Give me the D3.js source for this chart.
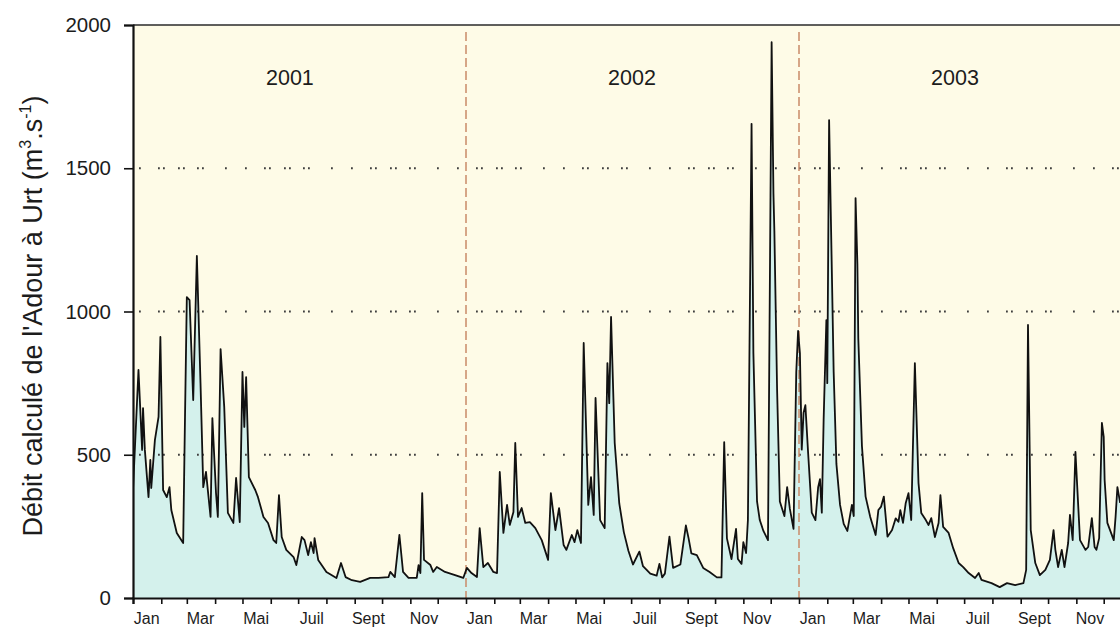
<!DOCTYPE html>
<html>
<head>
<meta charset="utf-8">
<script src="https://cdn.jsdelivr.net/npm/d3@7"></script>
<style>
  body { margin: 0; background: #ffffff; }
  svg { display: block; }
  text { font-family: "Liberation Sans", Arial, sans-serif; fill: #1c1c1c; }
</style>
</head>
<body>
<svg id="chart" width="1120" height="628"></svg>
<script>
// Daily discharge of the Adour at Urt, 2001-2003 (days counted from 1 Jan 2001)
const dayOfRecord = [
  0,6,10,11,13,17,19,20,24,28,30,33,37,40,42,48,55,57,59,62,66,70,74,77,80,85,87,91,93,96,
  100,104,110,113,117,120,122,124,127,134,137,143,148,154,157,160,163,168,176,179,185,188,192,195,198,199,
  203,212,223,228,233,240,249,260,269,280,282,287,292,296,302,311,313,315,317,319,326,329,333,342,353,362,
  366,371,377,380,384,389,395,399,402,406,410,413,417,419,422,426,430,435,441,448,455,458,463,467,472,475,
  481,484,487,491,494,499,502,505,507,512,517,520,522,524,528,533,538,543,548,555,559,567,574,577,580,583,
  588,592,600,606,609,612,618,625,632,640,645,648,651,656,661,663,667,669,672,674,678,680,684,687,691,696,
  700,702,703,706,709,714,717,720,724,727,729,
  731,733,735,737,740,744,748,751,753,755,757,760,761,763,768,771,775,779,783,788,790,792,794,795,799,803,
  808,814,817,820,823,827,832,836,839,841,844,847,850,853,857,861,864,869,872,875,879,883,885,888,894,899,
  905,910,916,923,927,930,941,950,958,967,976,979,981,984,989,994,1000,1005,1009,1011,1014,1018,1021,1025,
  1027,1030,1033,1038,1044,1047,1051,1054,1056,1059,1062,1064,1065,1068,1075,1077,1079,1082
];
const flow = [
  377,796,517,663,517,352,482,384,551,632,911,377,352,387,307,227,192,632,1050,1040,691,1194,750,387,440,283,628,366,283,869,
  667,297,262,419,265,789,597,771,422,377,352,283,262,202,192,359,213,168,143,115,213,202,150,195,157,209,
  133,91,70,122,73,62,56,70,70,73,91,73,220,91,70,70,115,87,366,133,115,91,108,91,80,70,
  105,87,73,244,108,122,91,87,440,227,325,255,300,541,283,314,262,265,244,202,133,366,237,314,185,168,
  220,195,237,192,890,325,422,290,698,272,244,820,680,981,541,330,230,165,117,162,111,85,78,119,72,85,
  214,105,117,253,208,156,150,105,91,72,72,544,208,136,241,136,119,195,157,272,1655,855,337,272,234,202,
  1940,1410,1281,726,337,286,387,311,241,789,932,
  855,518,647,673,506,298,272,387,415,298,621,970,750,1668,789,468,325,259,234,325,286,1396,1166,906,530,354,
  284,220,307,319,354,214,237,278,266,307,262,332,366,272,820,401,297,272,255,279,213,262,359,248,227,174,
  122,108,87,70,87,63,52,38,52,45,52,98,953,237,122,80,98,133,237,168,108,168,108,192,
  290,202,510,202,168,178,279,178,168,209,611,562,412,262,202,283,387,332
];

const yTicks = [0, 500, 1000, 1500, 2000];
const gridValues = [500, 1000, 1500];
const monthLabels = ["Jan", "Mar", "Mai", "Juil", "Sept", "Nov"];
const yearLabels = ["2001", "2002", "2003"];
const yearLabelDates = ["2001-06-22", "2002-07-02", "2003-06-21"];
const yearBreaks = ["2002-01-01", "2003-01-01"];

const recordStart = new Date(2001, 0, 1);
const recordEnd = new Date(2004, 0, 1);
const parseDay = d3.timeParse("%Y-%m-%d");

const series = dayOfRecord.map((d, i) => ({ date: d3.timeDay.offset(recordStart, d), v: flow[i] }));

const svg = d3.select("#chart");
const W = 1120;
const plot = { left: 133, top: 25, bottom: 598, right: 1132 };

const x = d3.scaleTime().domain([recordStart, recordEnd]).range([plot.left, plot.right]);
const y = d3.scaleLinear().domain([0, 2000]).range([plot.bottom, plot.top]);

svg.append("defs").append("clipPath").attr("id", "plotClip")
  .append("rect").attr("x", plot.left).attr("y", plot.top)
  .attr("width", plot.right - plot.left).attr("height", plot.bottom - plot.top);

// plot background
svg.append("rect")
  .attr("x", plot.left).attr("y", plot.top)
  .attr("width", plot.right - plot.left).attr("height", plot.bottom - plot.top)
  .attr("fill", "#fefbe7");

const data = svg.append("g").attr("clip-path", "url(#plotClip)");

data.append("path").datum(series)
  .attr("fill", "#d4f1ec")
  .attr("d", d3.area().x(d => x(d.date)).y0(y(0)).y1(d => y(d.v)));

// dotted horizontal grid
data.selectAll(".grid").data(gridValues).join("line")
  .attr("x1", plot.left).attr("x2", plot.right)
  .attr("y1", d => y(d)).attr("y2", d => y(d))
  .attr("stroke", "#3e3e3e").attr("stroke-width", 1.8)
  .attr("stroke-dasharray", "1.8,3.2,1.8,13.2,1.8,3.2,1.8,12.2,1.8,3.2,1.8,21.2,1.8,18.2,1.8,17.2")
  .attr("stroke-dashoffset", 81);

// year separators
data.selectAll(".yearBreak").data(yearBreaks).join("line")
  .attr("x1", d => x(parseDay(d))).attr("x2", d => x(parseDay(d)))
  .attr("y1", 32).attr("y2", plot.bottom)
  .attr("stroke", "#c98a68").attr("stroke-width", 1.5)
  .attr("stroke-dasharray", "9,4");

data.append("path").datum(series)
  .attr("fill", "none").attr("stroke", "#111").attr("stroke-width", 1.8)
  .attr("stroke-linejoin", "round")
  .attr("d", d3.line().x(d => x(d.date)).y(d => y(d.v)));

// year labels
svg.selectAll(".yearLabel").data(yearLabels).join("text")
  .attr("x", (d, i) => x(parseDay(yearLabelDates[i])))
  .attr("y", 85)
  .attr("text-anchor", "middle")
  .attr("font-size", 21.5)
  .text(d => d);

// frame: top border
svg.append("line")
  .attr("x1", plot.left).attr("x2", W).attr("y1", plot.top).attr("y2", plot.top)
  .attr("stroke", "#2a2a2a").attr("stroke-width", 1.6);

// y axis
const yAxis = svg.append("g").attr("transform", `translate(${plot.left},0)`)
  .call(d3.axisLeft(y).tickValues(yTicks).tickSize(9).tickPadding(13).tickFormat(d3.format("d")));
yAxis.select(".domain").attr("stroke", "#111").attr("stroke-width", 2.2);
yAxis.selectAll(".tick line").attr("stroke", "#111").attr("stroke-width", 1.6);
yAxis.selectAll(".tick text").attr("font-size", 20.5).attr("fill", "#1c1c1c")
  .attr("font-family", '"Liberation Sans", Arial, sans-serif');

// x axis: a tick at every month start, labels mid-month every other month
const months = d3.timeMonth.range(recordStart, recordEnd);
const xAxis = svg.append("g").attr("transform", `translate(0,${plot.bottom})`)
  .call(d3.axisBottom(x).tickValues(months).tickSize(6).tickFormat(""));
xAxis.select(".domain").attr("stroke", "#111").attr("stroke-width", 2.2);
xAxis.selectAll(".tick line").attr("stroke", "#111").attr("stroke-width", 1.6);

const labelled = months.filter(m => m.getMonth() % 2 === 0);
svg.selectAll(".monthLabel").data(labelled).join("text")
  .attr("x", d => x(d3.timeDay.offset(d, 15)))
  .attr("y", 624)
  .attr("text-anchor", "middle")
  .attr("font-size", 16)
  .text(d => monthLabels[d.getMonth() / 2]);

// y axis title
const title = svg.append("text")
  .attr("transform", "translate(42,316) rotate(-90)")
  .attr("text-anchor", "middle")
  .attr("font-size", 27);
title.append("tspan").text("Débit calculé de l'Adour à Urt (m");
title.append("tspan").attr("font-size", 16).attr("dy", -11).text("3");
title.append("tspan").attr("dy", 11).text(".s");
title.append("tspan").attr("font-size", 16).attr("dy", -11).text("-1");
title.append("tspan").attr("dy", 11).text(")");
</script>
</body>
</html>
